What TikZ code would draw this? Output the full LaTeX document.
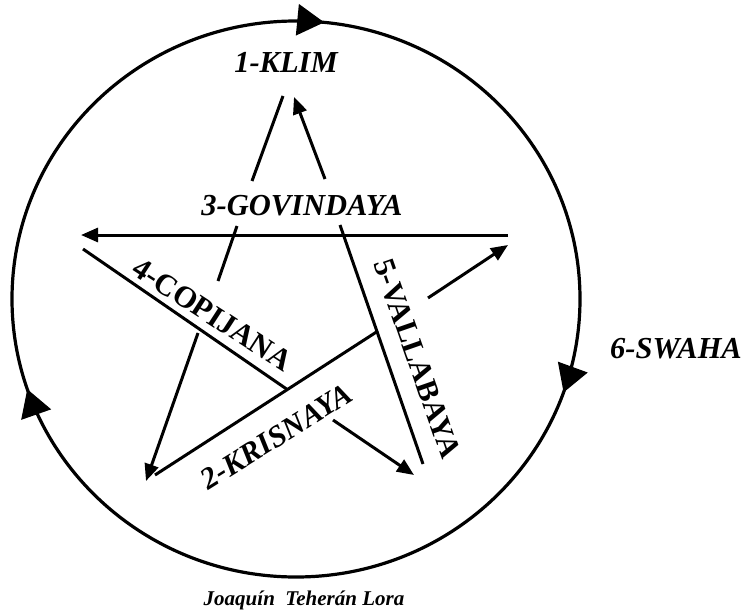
\documentclass[tikz,border=0pt]{standalone}
\usepackage{fontspec}
\setmainfont{Liberation Serif}
\usetikzlibrary{arrows.meta,decorations.markings}
\begin{document}
\begin{tikzpicture}[x=1pt,y=-1pt,
  lbl/.style={font=\fontsize{30.5}{36}\selectfont\bfseries\itshape, inner sep=0pt, anchor=base},
  lblup/.style={font=\fontsize{30.5}{36}\selectfont\bfseries, inner sep=0pt, anchor=base},
  seg/.style={line width=3pt},
  arr/.style={seg, -{Triangle[length=17pt,width=14pt]}},
  ringtip/.tip={Triangle[length=27pt,width=31pt]},
  ring/.style={line width=3.2pt, postaction={decorate}, decoration={markings,
     mark=at position 0.054 with {\arrow{ringtip}},
     mark=at position 0.448 with {\arrow{ringtip}},
     mark=at position 0.766 with {\arrow{ringtip}}}}
]
\useasboundingbox (0,0) rectangle (746,615);

% outer ring
\coordinate (ctr) at (296,299);
\draw[ring] (ctr) ellipse [x radius=284, y radius=278];

% star coordinates
\coordinate (a1) at (283,96);  \coordinate (a2) at (252,181);
\coordinate (a3) at (237,226); \coordinate (a4) at (218,281);
\coordinate (a5) at (198,333); \coordinate (a6) at (146,481);
\coordinate (b1) at (155,475); \coordinate (b2) at (378,331);
\coordinate (b3) at (428,298); \coordinate (b4) at (508,245);
\coordinate (c1) at (508,235); \coordinate (c2) at (81,235);
\coordinate (d1) at (83,249);  \coordinate (d2) at (288,390);
\coordinate (d3) at (333,420); \coordinate (d4) at (414,475);
\coordinate (e1) at (423,464); \coordinate (e2) at (340,225);
\coordinate (e3) at (325,179); \coordinate (e4) at (294,97);

% left leg
\draw[seg] (a1) -- (a2);
\draw[seg] (a3) -- (a4);
\draw[arr] (a5) -- (a6);
% bottom-left to right
\draw[seg] (b1) -- (b2);
\draw[arr] (b3) -- (b4);
% horizontal
\draw[arr] (c1) -- (c2);
% left to bottom-right
\draw[seg] (d1) -- (d2);
\draw[arr] (d3) -- (d4);
% right leg
\draw[seg] (e1) -- (e2);
\draw[arr] (e3) -- (e4);

% labels
\node[lbl] (klim) at (286,73) {1-KLIM};
\node[lbl] (govind) at (302,215) {3-GOVINDAYA};
\node[lbl] (swaha) at (676,358) {6-SWAHA};
\node[lblup, rotate=-33] (copij) at (207,323) {4-COPIJANA};
\node[lbl, rotate=32] (krisn) at (282,445) {2-KRISNAYA};
\node[lblup, rotate=-70.8] (valla) at (408,362) {5-VALLABAYA};
\node[font=\fontsize{21}{25}\selectfont\bfseries\itshape, inner sep=0pt, anchor=base] (author) at (304,605) {Joaquín\ \ Teherán Lora};
\end{tikzpicture}
\end{document}
